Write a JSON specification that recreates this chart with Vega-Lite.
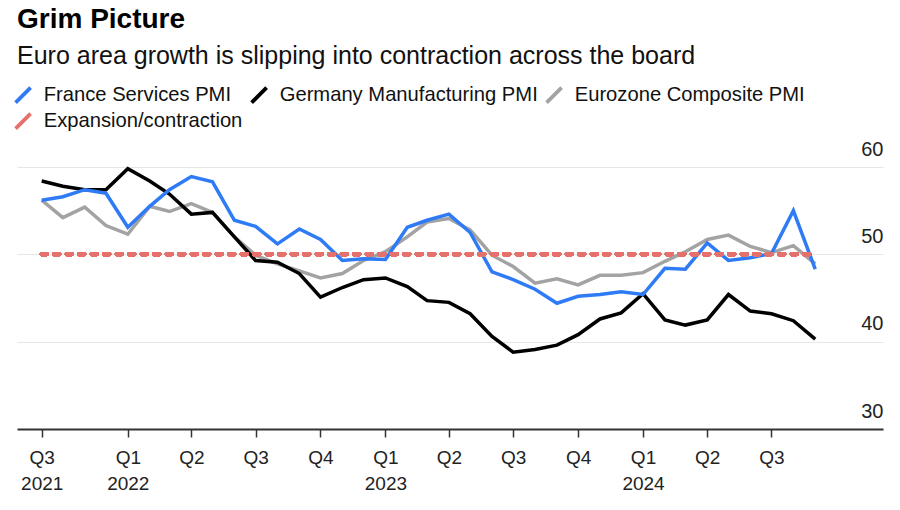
{
  "$schema": "https://vega.github.io/schema/vega-lite/v6.json",
  "autosize": {"type": "none"},
  "width": 866,
  "height": 262,
  "padding": {"left": 17, "top": 167, "right": 17, "bottom": 81},
  "background": "white",
  "title": {
    "text": "Grim Picture",
    "subtitle": "Euro area growth is slipping into contraction across the board",
    "anchor": "start",
    "frame": "group",
    "offset": 16,
    "font": "Liberation Sans",
    "fontSize": 28,
    "fontWeight": "bold",
    "color": "#000000",
    "subtitleFont": "Liberation Sans",
    "subtitleFontSize": 25,
    "subtitleColor": "#111111",
    "subtitlePadding": 10
  },
  "config": {
    "view": {"stroke": null},
    "font": "Liberation Sans",
    "legend": {
      "orient": "none",
      "legendX": -4,
      "legendY": -82,
      "direction": "horizontal",
      "columns": 3,
      "gridAlign": "none",
      "symbolType": "M-1,1L1,-1",
      "symbolSize": 225,
      "symbolStrokeWidth": 3.8,
      "labelFont": "Liberation Sans",
      "labelFontSize": 20.2,
      "labelColor": "#111111",
      "labelOffset": 10.5,
      "columnPadding": 1,
      "rowPadding": -5,
      "labelLimit": 400
    }
  },
  "data": {"values": [
    {"date": "2021-09-01", "series": "France Services PMI", "value": 56.2},
    {"date": "2021-10-01", "series": "France Services PMI", "value": 56.6},
    {"date": "2021-11-01", "series": "France Services PMI", "value": 57.4},
    {"date": "2021-12-01", "series": "France Services PMI", "value": 57.0},
    {"date": "2022-01-01", "series": "France Services PMI", "value": 53.1},
    {"date": "2022-02-01", "series": "France Services PMI", "value": 55.5},
    {"date": "2022-03-01", "series": "France Services PMI", "value": 57.4},
    {"date": "2022-04-01", "series": "France Services PMI", "value": 58.9},
    {"date": "2022-05-01", "series": "France Services PMI", "value": 58.3},
    {"date": "2022-06-01", "series": "France Services PMI", "value": 53.9},
    {"date": "2022-07-01", "series": "France Services PMI", "value": 53.2},
    {"date": "2022-08-01", "series": "France Services PMI", "value": 51.2},
    {"date": "2022-09-01", "series": "France Services PMI", "value": 52.9},
    {"date": "2022-10-01", "series": "France Services PMI", "value": 51.7},
    {"date": "2022-11-01", "series": "France Services PMI", "value": 49.3},
    {"date": "2022-12-01", "series": "France Services PMI", "value": 49.5},
    {"date": "2023-01-01", "series": "France Services PMI", "value": 49.4},
    {"date": "2023-02-01", "series": "France Services PMI", "value": 53.1},
    {"date": "2023-03-01", "series": "France Services PMI", "value": 53.9},
    {"date": "2023-04-01", "series": "France Services PMI", "value": 54.6},
    {"date": "2023-05-01", "series": "France Services PMI", "value": 52.5},
    {"date": "2023-06-01", "series": "France Services PMI", "value": 48.0},
    {"date": "2023-07-01", "series": "France Services PMI", "value": 47.1},
    {"date": "2023-08-01", "series": "France Services PMI", "value": 46.0},
    {"date": "2023-09-01", "series": "France Services PMI", "value": 44.4},
    {"date": "2023-10-01", "series": "France Services PMI", "value": 45.2},
    {"date": "2023-11-01", "series": "France Services PMI", "value": 45.4},
    {"date": "2023-12-01", "series": "France Services PMI", "value": 45.7},
    {"date": "2024-01-01", "series": "France Services PMI", "value": 45.4},
    {"date": "2024-02-01", "series": "France Services PMI", "value": 48.4},
    {"date": "2024-03-01", "series": "France Services PMI", "value": 48.3},
    {"date": "2024-04-01", "series": "France Services PMI", "value": 51.3},
    {"date": "2024-05-01", "series": "France Services PMI", "value": 49.3},
    {"date": "2024-06-01", "series": "France Services PMI", "value": 49.6},
    {"date": "2024-07-01", "series": "France Services PMI", "value": 50.1},
    {"date": "2024-08-01", "series": "France Services PMI", "value": 55.0},
    {"date": "2024-09-01", "series": "France Services PMI", "value": 48.3},
    {"date": "2021-09-01", "series": "Germany Manufacturing PMI", "value": 58.4},
    {"date": "2021-10-01", "series": "Germany Manufacturing PMI", "value": 57.8},
    {"date": "2021-11-01", "series": "Germany Manufacturing PMI", "value": 57.4},
    {"date": "2021-12-01", "series": "Germany Manufacturing PMI", "value": 57.4},
    {"date": "2022-01-01", "series": "Germany Manufacturing PMI", "value": 59.8},
    {"date": "2022-02-01", "series": "Germany Manufacturing PMI", "value": 58.4},
    {"date": "2022-03-01", "series": "Germany Manufacturing PMI", "value": 56.9},
    {"date": "2022-04-01", "series": "Germany Manufacturing PMI", "value": 54.6},
    {"date": "2022-05-01", "series": "Germany Manufacturing PMI", "value": 54.8},
    {"date": "2022-06-01", "series": "Germany Manufacturing PMI", "value": 52.0},
    {"date": "2022-07-01", "series": "Germany Manufacturing PMI", "value": 49.3},
    {"date": "2022-08-01", "series": "Germany Manufacturing PMI", "value": 49.1},
    {"date": "2022-09-01", "series": "Germany Manufacturing PMI", "value": 47.8},
    {"date": "2022-10-01", "series": "Germany Manufacturing PMI", "value": 45.1},
    {"date": "2022-11-01", "series": "Germany Manufacturing PMI", "value": 46.2},
    {"date": "2022-12-01", "series": "Germany Manufacturing PMI", "value": 47.1},
    {"date": "2023-01-01", "series": "Germany Manufacturing PMI", "value": 47.3},
    {"date": "2023-02-01", "series": "Germany Manufacturing PMI", "value": 46.3},
    {"date": "2023-03-01", "series": "Germany Manufacturing PMI", "value": 44.7},
    {"date": "2023-04-01", "series": "Germany Manufacturing PMI", "value": 44.5},
    {"date": "2023-05-01", "series": "Germany Manufacturing PMI", "value": 43.2},
    {"date": "2023-06-01", "series": "Germany Manufacturing PMI", "value": 40.6},
    {"date": "2023-07-01", "series": "Germany Manufacturing PMI", "value": 38.8},
    {"date": "2023-08-01", "series": "Germany Manufacturing PMI", "value": 39.1},
    {"date": "2023-09-01", "series": "Germany Manufacturing PMI", "value": 39.6},
    {"date": "2023-10-01", "series": "Germany Manufacturing PMI", "value": 40.8},
    {"date": "2023-11-01", "series": "Germany Manufacturing PMI", "value": 42.6},
    {"date": "2023-12-01", "series": "Germany Manufacturing PMI", "value": 43.3},
    {"date": "2024-01-01", "series": "Germany Manufacturing PMI", "value": 45.5},
    {"date": "2024-02-01", "series": "Germany Manufacturing PMI", "value": 42.5},
    {"date": "2024-03-01", "series": "Germany Manufacturing PMI", "value": 41.9},
    {"date": "2024-04-01", "series": "Germany Manufacturing PMI", "value": 42.5},
    {"date": "2024-05-01", "series": "Germany Manufacturing PMI", "value": 45.4},
    {"date": "2024-06-01", "series": "Germany Manufacturing PMI", "value": 43.5},
    {"date": "2024-07-01", "series": "Germany Manufacturing PMI", "value": 43.2},
    {"date": "2024-08-01", "series": "Germany Manufacturing PMI", "value": 42.4},
    {"date": "2024-09-01", "series": "Germany Manufacturing PMI", "value": 40.3},
    {"date": "2021-09-01", "series": "Eurozone Composite PMI", "value": 56.2},
    {"date": "2021-10-01", "series": "Eurozone Composite PMI", "value": 54.2},
    {"date": "2021-11-01", "series": "Eurozone Composite PMI", "value": 55.4},
    {"date": "2021-12-01", "series": "Eurozone Composite PMI", "value": 53.3},
    {"date": "2022-01-01", "series": "Eurozone Composite PMI", "value": 52.3},
    {"date": "2022-02-01", "series": "Eurozone Composite PMI", "value": 55.5},
    {"date": "2022-03-01", "series": "Eurozone Composite PMI", "value": 54.9},
    {"date": "2022-04-01", "series": "Eurozone Composite PMI", "value": 55.8},
    {"date": "2022-05-01", "series": "Eurozone Composite PMI", "value": 54.8},
    {"date": "2022-06-01", "series": "Eurozone Composite PMI", "value": 52.0},
    {"date": "2022-07-01", "series": "Eurozone Composite PMI", "value": 49.9},
    {"date": "2022-08-01", "series": "Eurozone Composite PMI", "value": 48.9},
    {"date": "2022-09-01", "series": "Eurozone Composite PMI", "value": 48.1},
    {"date": "2022-10-01", "series": "Eurozone Composite PMI", "value": 47.3},
    {"date": "2022-11-01", "series": "Eurozone Composite PMI", "value": 47.8},
    {"date": "2022-12-01", "series": "Eurozone Composite PMI", "value": 49.3},
    {"date": "2023-01-01", "series": "Eurozone Composite PMI", "value": 50.3},
    {"date": "2023-02-01", "series": "Eurozone Composite PMI", "value": 52.0},
    {"date": "2023-03-01", "series": "Eurozone Composite PMI", "value": 53.7},
    {"date": "2023-04-01", "series": "Eurozone Composite PMI", "value": 54.1},
    {"date": "2023-05-01", "series": "Eurozone Composite PMI", "value": 52.8},
    {"date": "2023-06-01", "series": "Eurozone Composite PMI", "value": 49.9},
    {"date": "2023-07-01", "series": "Eurozone Composite PMI", "value": 48.6},
    {"date": "2023-08-01", "series": "Eurozone Composite PMI", "value": 46.7},
    {"date": "2023-09-01", "series": "Eurozone Composite PMI", "value": 47.2},
    {"date": "2023-10-01", "series": "Eurozone Composite PMI", "value": 46.5},
    {"date": "2023-11-01", "series": "Eurozone Composite PMI", "value": 47.6},
    {"date": "2023-12-01", "series": "Eurozone Composite PMI", "value": 47.6},
    {"date": "2024-01-01", "series": "Eurozone Composite PMI", "value": 47.9},
    {"date": "2024-02-01", "series": "Eurozone Composite PMI", "value": 49.2},
    {"date": "2024-03-01", "series": "Eurozone Composite PMI", "value": 50.3},
    {"date": "2024-04-01", "series": "Eurozone Composite PMI", "value": 51.7},
    {"date": "2024-05-01", "series": "Eurozone Composite PMI", "value": 52.2},
    {"date": "2024-06-01", "series": "Eurozone Composite PMI", "value": 50.9},
    {"date": "2024-07-01", "series": "Eurozone Composite PMI", "value": 50.2},
    {"date": "2024-08-01", "series": "Eurozone Composite PMI", "value": 51.0},
    {"date": "2024-09-01", "series": "Eurozone Composite PMI", "value": 48.9}
  ]},
  "encoding": {
    "x": {
      "field": "date",
      "type": "temporal",
      "scale": {
        "type": "utc",
        "domain": [
          {"year": 2021, "month": 7, "date": 28, "utc": true},
          {"year": 2024, "month": 12, "date": 6, "utc": true}
        ]
      },
      "axis": {
        "title": null,
        "values": [
          {"year": 2021, "month": 9, "date": 1, "utc": true},
          {"year": 2022, "month": 1, "date": 1, "utc": true},
          {"year": 2022, "month": 4, "date": 1, "utc": true},
          {"year": 2022, "month": 7, "date": 1, "utc": true},
          {"year": 2022, "month": 10, "date": 1, "utc": true},
          {"year": 2023, "month": 1, "date": 1, "utc": true},
          {"year": 2023, "month": 4, "date": 1, "utc": true},
          {"year": 2023, "month": 7, "date": 1, "utc": true},
          {"year": 2023, "month": 10, "date": 1, "utc": true},
          {"year": 2024, "month": 1, "date": 1, "utc": true},
          {"year": 2024, "month": 4, "date": 1, "utc": true},
          {"year": 2024, "month": 7, "date": 1, "utc": true}
        ],
        "labelExpr": "utcmonth(datum.value) == 0 || utcyear(datum.value) == 2021 ? ['Q' + utcquarter(datum.value), '' + utcyear(datum.value)] : 'Q' + utcquarter(datum.value)",
        "grid": false,
        "domain": true,
        "domainColor": "#333333",
        "domainWidth": 2,
        "ticks": true,
        "tickColor": "#333333",
        "tickSize": 8,
        "tickWidth": 1.5,
        "labelFont": "Liberation Sans",
        "labelFontSize": 19,
        "labelColor": "#222222",
        "labelPadding": 11,
        "labelLineHeight": 26,
        "labelAlign": "center",
        "labelBaseline": "top",
        "labelFlush": false,
        "labelOverlap": false
      }
    },
    "y": {
      "field": "value",
      "type": "quantitative",
      "scale": {"domain": [30, 60], "nice": false, "zero": false},
      "axis": {
        "title": null,
        "orient": "right",
        "values": [30, 40, 50, 60],
        "grid": true,
        "gridColor": "#e6e6e6",
        "gridWidth": 1,
        "domain": false,
        "ticks": false,
        "labelFont": "Liberation Sans",
        "labelFontSize": 20,
        "labelColor": "#222222",
        "labelAlign": "right",
        "labelBaseline": "alphabetic",
        "labelPadding": 0,
        "labelOffset": -12
      }
    }
  },
  "layer": [
    {
      "transform": [{"filter": "datum.series == 'Eurozone Composite PMI'"}],
      "mark": {"type": "line", "strokeWidth": 3.5, "strokeJoin": "miter"},
      "encoding": {
        "color": {
          "field": "series",
          "type": "nominal",
          "scale": {
            "domain": ["France Services PMI", "Germany Manufacturing PMI", "Eurozone Composite PMI", "Expansion/contraction"],
            "range": ["#2f7bf5", "#000000", "#a3a3a3", "#e5716d"]
          },
          "legend": {
            "title": null,
            "encode": {"symbols": {"update": {"strokeDash": {"value": [100, 0]}, "strokeCap": {"value": "butt"}}}}
          }
        }
      }
    },
    {
      "transform": [{"filter": "datum.series == 'Germany Manufacturing PMI'"}],
      "mark": {"type": "line", "strokeWidth": 3.5, "strokeJoin": "miter"},
      "encoding": {
        "color": {"field": "series", "type": "nominal", "legend": {"title": null}}
      }
    },
    {
      "transform": [{"filter": "datum.series == 'France Services PMI'"}],
      "mark": {"type": "line", "strokeWidth": 3.5, "strokeJoin": "miter"},
      "encoding": {
        "color": {"field": "series", "type": "nominal", "legend": {"title": null}}
      }
    },
    {
      "mark": {"type": "rule", "strokeWidth": 4, "strokeCap": "round"},
      "encoding": {
        "x": {"datum": {"year": 2021, "month": 9, "date": 1, "utc": true}, "type": "temporal"},
        "x2": {"datum": {"year": 2024, "month": 9, "date": 1, "utc": true}},
        "y": {"datum": 50, "type": "quantitative"},
        "strokeDash": {"value": [5, 7.5]},
        "color": {"datum": "Expansion/contraction", "type": "nominal", "legend": null}
      }
    }
  ]
}
